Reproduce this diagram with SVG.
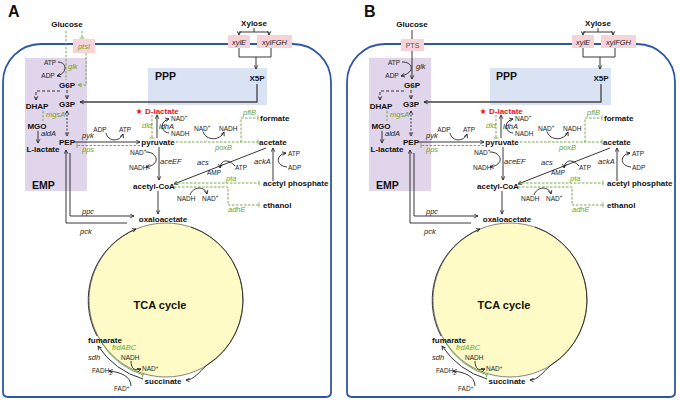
<svg xmlns="http://www.w3.org/2000/svg" width="680" height="400" viewBox="0 0 680 400">
<style>
text{font-family:"Liberation Sans",Arial,sans-serif}
.m{font-size:8px;font-weight:bold;fill:#111}
.red{font-size:8px;font-weight:bold;fill:#e8141b}
.star{font-family:"DejaVu Sans",sans-serif;font-size:8px;fill:#e8141b}
.c{font-size:6.5px;fill:#222}
.gk{font-size:7.5px;font-style:italic;fill:#222}
.gg{font-size:7.5px;font-style:italic;fill:#6aa339}
.rg{font-size:10.5px;font-weight:bold;fill:#111}
.tca{font-size:11px;font-weight:bold;fill:#111}
.pl{font-size:16px;font-weight:bold;fill:#111}
.ln{fill:none;stroke:#222;stroke-width:0.9}
.gd{fill:none;stroke:#6aa339;stroke-width:0.9;stroke-dasharray:2.5 1.5}
.gs{fill:none;stroke:#6aa339;stroke-width:0.9}
.tc{fill:none;stroke:#333;stroke-width:1}
.cell{fill:none;stroke:#2f55a4;stroke-width:1.8}
.emp{fill:#e0d5ea}
.ppp{fill:#dae3f3}
.pink{fill:#f6d3d8}
.circ{fill:#fefbc6;stroke:#666;stroke-width:0.8}
</style>
<defs>
<marker id="ar" viewBox="0 0 8 8" refX="7" refY="4" markerWidth="5" markerHeight="5" orient="auto-start-reverse" markerUnits="userSpaceOnUse"><path d="M1,1 L7,4 L1,7" fill="none" stroke="#222" stroke-width="1.3"/></marker>
<marker id="ag" viewBox="0 0 8 8" refX="7" refY="4" markerWidth="5" markerHeight="5" orient="auto" markerUnits="userSpaceOnUse"><path d="M1,1 L7,4 L1,7" fill="none" stroke="#6aa339" stroke-width="1.3"/></marker>
<marker id="tb" viewBox="0 0 4 10" refX="2" refY="5" markerWidth="2" markerHeight="6" orient="auto" markerUnits="userSpaceOnUse"><path d="M2,0 V10" stroke="#6aa339" stroke-width="1.6"/></marker>
</defs>

<!-- ================= PANEL A ================= -->
<g id="panelA">
<g id="a-emp"><rect class="emp" x="25" y="58" width="62" height="133"/><text class="rg" x="32" y="189">EMP</text></g>
<g id="a-ppp"><rect class="ppp" x="148" y="68" width="119" height="37"/><text class="rg" x="155" y="80">PPP</text></g>
<g id="a-cell"><path class="cell" d="M3,82 A38,38 0 0 1 41,44 H293 A38,38 0 0 1 331,82 V392 Q331,397 326,397 H8 Q3,397 3,392 Z"/></g>
<g id="a-tca"><circle class="circ" cx="166" cy="300" r="77"/><text class="tca" x="160" y="309" text-anchor="middle">TCA cycle</text></g>

<g id="a-connectors">
<path class="gd" d="M66,31 V80"/>
<path class="gd" d="M82,31 V38" marker-end="url(#tb)"/>
<path class="gd" d="M86,53 V85 H78" marker-end="url(#ag)"/>
<path class="ln" d="M58,62 C67,62 68,73 57,76" marker-end="url(#ar)"/>
<path class="ln" d="M254,28 V32 M239,32 H269"/>
<path class="ln" d="M239,32 V35" marker-end="url(#ar)"/>
<path class="ln" d="M269,32 V35" marker-end="url(#ar)"/>
<path class="ln" d="M239,48 V57 H271 V48"/>
<path class="ln" d="M256,57 V69" marker-end="url(#ar)"/>
<path fill="none" stroke="#444" stroke-width="1.3" d="M257,84 V102 H80" marker-end="url(#ar)"/>
<path class="ln" stroke-dasharray="3 2" d="M67,90 V99" marker-end="url(#ar)"/>
<path class="ln" stroke-dasharray="3 2" d="M60,91 H36 V100" marker-end="url(#ar)"/>
<path class="gd" d="M43,111 V121"/>
<path class="ln" d="M38,131 V143" marker-end="url(#ar)"/>
<path class="ln" stroke-dasharray="2 1.5" d="M67,111 V136" marker-start="url(#ar)" marker-end="url(#ar)"/>
<path class="ln" d="M74,142 H140" marker-end="url(#ar)"/>
<path class="ln" d="M106,133 C108,142 120,142 123,134" marker-end="url(#ar)"/>
<path class="gd" d="M140,145.5 H77" marker-end="url(#tb)"/>
<path class="ln" d="M157,138 V115" marker-end="url(#ar)"/>
<path class="ln" d="M169,133 C160,132 160,121 169,119" marker-end="url(#ar)"/>
<path class="gd" d="M152,115 V138" marker-end="url(#tb)"/>
<path class="gd" d="M176,142 H258" marker-end="url(#tb)"/>
<path class="gd" d="M241,142 V118 H258" marker-end="url(#tb)"/>
<path class="ln" d="M203,131.5 C206,141 220,141 224,132" marker-end="url(#ar)"/>
<path class="ln" d="M159,147 V180" marker-end="url(#ar)"/>
<path class="ln" d="M146,152 C158,152 161,165 146,167" marker-end="url(#ar)"/>
<path class="ln" d="M266,148 L174,184" marker-end="url(#ar)"/>
<path class="ln" d="M235,166 C229,159 221,159 220,168" marker-end="url(#ar)"/>
<path class="ln" d="M273,181 V148" marker-end="url(#ar)"/>
<path class="ln" d="M287,167 C276,166 275,155 286,153" marker-end="url(#ar)"/>
<path class="gd" d="M174,183 H259" marker-end="url(#tb)"/>
<path class="gd" d="M174,187 H228 V205 H259" marker-end="url(#tb)"/>
<path class="ln" d="M190,195 C193,186 205,186 207,194" marker-end="url(#ar)"/>
<path class="ln" d="M158,191 V214" marker-end="url(#ar)"/>
<path class="ln" d="M70,153 V216 H134" marker-end="url(#ar)"/>
<path class="ln" d="M127,223 H66 V150" marker-end="url(#ar)"/>
<path class="tc" d="M97,336 A77,77 0 0 1 136,229" marker-end="url(#ar)"/>
<path class="tc" d="M191,227 A77,77 0 0 1 207,365 C199,372 194,380 186,380" marker-end="url(#ar)"/>
<path class="tc" d="M143,379 A82,82 0 0 1 98,346" marker-end="url(#ar)"/>
<path class="gs" d="M101,342 A78,78 0 0 0 143,375" marker-end="url(#tb)"/>
<path class="ln" d="M131,361 C131,369 135,371 141,369" marker-end="url(#ar)"/>
<path class="ln" d="M131,386 C131,376 120,372 109,371" marker-end="url(#ar)"/>
</g>

<g id="a-ptsI"><rect class="pink" x="73" y="39" width="22" height="14"/><text class="gg" x="84" y="49" text-anchor="middle">ptsI</text></g>
<g id="a-xylE"><rect class="pink" x="228" y="35" width="22" height="13"/><text class="gk" x="239" y="44.5" text-anchor="middle">xylE</text></g>
<g id="a-xylFGH"><rect class="pink" x="257" y="35" width="35" height="13"/><text class="gk" x="274.5" y="44.5" text-anchor="middle">xylFGH</text></g>

<g id="a-label"><text class="pl" x="8" y="17">A</text></g>
<g id="a-glucose"><text class="m" x="67" y="27" text-anchor="middle">Glucose</text></g>
<g id="a-xylose"><text class="m" x="254" y="26" text-anchor="middle">Xylose</text></g>
<g id="a-x5p"><text class="m" x="257" y="81" text-anchor="middle">X5P</text></g>
<g id="a-g6p"><text class="m" x="67" y="88" text-anchor="middle">G6P</text></g>
<g id="a-g3p"><text class="m" x="67" y="107" text-anchor="middle">G3P</text></g>
<g id="a-dhap"><text class="m" x="37" y="109" text-anchor="middle">DHAP</text></g>
<g id="a-mgo"><text class="m" x="37" y="129" text-anchor="middle">MGO</text></g>
<g id="a-llac"><text class="m" x="43" y="152" text-anchor="middle">L-lactate</text></g>
<g id="a-pep"><text class="m" x="67" y="145" text-anchor="middle">PEP</text></g>
<g id="a-pyr"><text class="m" x="158" y="145" text-anchor="middle">pyruvate</text></g>
<g id="a-dlac"><text class="star" x="139" y="114" text-anchor="middle">★</text><text class="red" x="145" y="114">D-lactate</text></g>
<g id="a-formate"><text class="m" x="260" y="121">formate</text></g>
<g id="a-acetate"><text class="m" x="259" y="145">acetate</text></g>
<g id="a-accoa"><text class="m" x="154" y="189" text-anchor="middle">acetyl-CoA</text></g>
<g id="a-acp"><text class="m" x="263" y="186">acetyl phosphate</text></g>
<g id="a-ethanol"><text class="m" x="263" y="208">ethanol</text></g>
<g id="a-oaa"><text class="m" x="163" y="222" text-anchor="middle">oxaloacetate</text></g>
<g id="a-fum"><text class="m" x="105" y="343" text-anchor="middle">fumarate</text></g>
<g id="a-succ"><text class="m" x="163" y="384" text-anchor="middle">succinate</text></g>

<g id="a-cofactors">
<text class="c" x="50" y="64.5" text-anchor="middle">ATP</text>
<text class="c" x="48" y="78" text-anchor="middle">ADP</text>
<text class="c" x="100" y="131.5" text-anchor="middle">ADP</text>
<text class="c" x="125" y="131.5" text-anchor="middle">ATP</text>
<text class="c" x="171" y="120.5">NAD<tspan font-size="4.5" dy="-2.5">+</tspan></text>
<text class="c" x="171" y="135.5">NADH</text>
<text class="c" x="194" y="130.5">NAD<tspan font-size="4.5" dy="-2.5">+</tspan></text>
<text class="c" x="219" y="130.5">NADH</text>
<text class="c" x="130" y="154.5">NAD<tspan font-size="4.5" dy="-2.5">+</tspan></text>
<text class="c" x="129" y="169.5">NADH</text>
<text class="c" x="207" y="174.5">AMP</text>
<text class="c" x="235" y="169.5">ATP</text>
<text class="c" x="288" y="155.5">ATP</text>
<text class="c" x="288" y="169.5">ADP</text>
<text class="c" x="177" y="200.5">NADH</text>
<text class="c" x="202" y="200.5">NAD<tspan font-size="4.5" dy="-2.5">+</tspan></text>
<text class="c" x="121" y="359.5">NADH</text>
<text class="c" x="142" y="371">NAD<tspan font-size="4.5" dy="-2.5">+</tspan></text>
<text class="c" x="92" y="373">FADH<tspan font-size="4.5" dy="1.5">2</tspan></text>
<text class="c" x="114" y="391">FAD<tspan font-size="4.5" dy="-2.5">+</tspan></text>
</g>
<g id="a-genes">
<text class="gg" x="68" y="69">glk</text>
<text class="gg" x="46" y="117">mgsA</text>
<text class="gk" x="41" y="136">aldA</text>
<text class="gk" x="82" y="138">pyk</text>
<text class="gg" x="82" y="152">pps</text>
<text class="gg" x="142" y="128">dld</text>
<text class="gk" x="159" y="128.5">ldhA</text>
<text class="gg" x="243" y="115">pflB</text>
<text class="gg" x="215" y="150">poxB</text>
<text class="gk" x="160" y="164">aceEF</text>
<text class="gk" x="197" y="165">acs</text>
<text class="gk" x="254" y="164">ackA</text>
<text class="gg" x="226" y="181">pta</text>
<text class="gg" x="228" y="212">adhE</text>
<text class="gk" x="82" y="214">ppc</text>
<text class="gk" x="80" y="234">pck</text>
<text class="gk" x="88" y="360">sdh</text>
<text class="gg" x="112" y="350" font-size="7">frdABC</text>
</g>
</g>

<!-- ================= PANEL B ================= -->
<g id="panelB" transform="translate(344,0)">
<g id="b-emp"><rect class="emp" x="25" y="58" width="62" height="133"/><text class="rg" x="32" y="189">EMP</text></g>
<g id="b-ppp"><rect class="ppp" x="146" y="68" width="121" height="37"/><text class="rg" x="152" y="80">PPP</text></g>
<g id="b-cell"><path class="cell" d="M3,82 A38,38 0 0 1 41,44 H293 A38,38 0 0 1 331,82 V392 Q331,397 326,397 H8 Q3,397 3,392 Z"/></g>
<g id="b-tca"><circle class="circ" cx="166" cy="300" r="77"/><text class="tca" x="160" y="309" text-anchor="middle">TCA cycle</text></g>

<g id="b-connectors">
<path class="ln" d="M68,30 V79" marker-end="url(#ar)"/>
<path class="ln" d="M58,62 C70,62 71,73 57,76" marker-end="url(#ar)"/>
<path class="ln" d="M254,28 V32 M239,32 H269"/>
<path class="ln" d="M239,32 V35" marker-end="url(#ar)"/>
<path class="ln" d="M269,32 V35" marker-end="url(#ar)"/>
<path class="ln" d="M239,48 V57 H271 V48"/>
<path class="ln" d="M256,57 V69" marker-end="url(#ar)"/>
<path fill="none" stroke="#444" stroke-width="1.3" d="M257,84 V102 H80" marker-end="url(#ar)"/>
<path class="ln" stroke-dasharray="3 2" d="M67,90 V99" marker-end="url(#ar)"/>
<path class="ln" stroke-dasharray="3 2" d="M60,91 H36 V100" marker-end="url(#ar)"/>
<path class="gd" d="M43,111 V121"/>
<path class="ln" d="M38,131 V143" marker-end="url(#ar)"/>
<path class="ln" stroke-dasharray="2 1.5" d="M67,111 V136" marker-start="url(#ar)" marker-end="url(#ar)"/>
<path class="ln" d="M74,142 H140" marker-end="url(#ar)"/>
<path class="ln" d="M106,133 C108,142 120,142 123,134" marker-end="url(#ar)"/>
<path class="gd" d="M140,145.5 H77" marker-end="url(#tb)"/>
<path class="ln" d="M157,138 V115" marker-end="url(#ar)"/>
<path class="ln" d="M169,133 C160,132 160,121 169,119" marker-end="url(#ar)"/>
<path class="gd" d="M152,115 V138" marker-end="url(#tb)"/>
<path class="gd" d="M176,142 H258" marker-end="url(#tb)"/>
<path class="gd" d="M241,142 V118 H258" marker-end="url(#tb)"/>
<path class="ln" d="M203,131.5 C206,141 220,141 224,132" marker-end="url(#ar)"/>
<path class="ln" d="M159,147 V180" marker-end="url(#ar)"/>
<path class="ln" d="M146,152 C158,152 161,165 146,167" marker-end="url(#ar)"/>
<path class="ln" d="M266,148 L174,184" marker-end="url(#ar)"/>
<path class="ln" d="M235,166 C229,159 221,159 220,168" marker-end="url(#ar)"/>
<path class="ln" d="M273,181 V148" marker-end="url(#ar)"/>
<path class="ln" d="M287,167 C276,166 275,155 286,153" marker-end="url(#ar)"/>
<path class="gd" d="M174,183 H259" marker-end="url(#tb)"/>
<path class="gd" d="M174,187 H228 V205 H259" marker-end="url(#tb)"/>
<path class="ln" d="M190,195 C193,186 205,186 207,194" marker-end="url(#ar)"/>
<path class="ln" d="M158,191 V214" marker-end="url(#ar)"/>
<path class="ln" d="M70,153 V216 H134" marker-end="url(#ar)"/>
<path class="ln" d="M127,223 H66 V150" marker-end="url(#ar)"/>
<path class="tc" d="M97,336 A77,77 0 0 1 136,229" marker-end="url(#ar)"/>
<path class="tc" d="M191,227 A77,77 0 0 1 207,365 C199,372 194,380 186,380" marker-end="url(#ar)"/>
<path class="tc" d="M143,379 A82,82 0 0 1 98,346" marker-end="url(#ar)"/>
<path class="gs" d="M101,342 A78,78 0 0 0 143,375" marker-end="url(#tb)"/>
<path class="ln" d="M131,361 C131,369 135,371 141,369" marker-end="url(#ar)"/>
<path class="ln" d="M131,386 C131,376 120,372 109,371" marker-end="url(#ar)"/>
</g>

<g id="b-pts"><rect class="pink" x="57" y="39" width="23" height="12"/><text x="68.5" y="47.5" text-anchor="middle" font-size="7" fill="#555">PTS</text></g>
<g id="b-xylE"><rect class="pink" x="228" y="35" width="22" height="13"/><text class="gk" x="239" y="44.5" text-anchor="middle">xylE</text></g>
<g id="b-xylFGH"><rect class="pink" x="257" y="35" width="35" height="13"/><text class="gk" x="274.5" y="44.5" text-anchor="middle">xylFGH</text></g>

<g id="b-label"><text class="pl" x="20" y="17">B</text></g>
<g id="b-glucose"><text class="m" x="68" y="27" text-anchor="middle">Glucose</text></g>
<g id="b-xylose"><text class="m" x="254" y="26" text-anchor="middle">Xylose</text></g>
<g id="b-x5p"><text class="m" x="257" y="81" text-anchor="middle">X5P</text></g>
<g id="b-g6p"><text class="m" x="68" y="88" text-anchor="middle">G6P</text></g>
<g id="b-g3p"><text class="m" x="67" y="107" text-anchor="middle">G3P</text></g>
<g id="b-dhap"><text class="m" x="37" y="109" text-anchor="middle">DHAP</text></g>
<g id="b-mgo"><text class="m" x="37" y="129" text-anchor="middle">MGO</text></g>
<g id="b-llac"><text class="m" x="43" y="152" text-anchor="middle">L-lactate</text></g>
<g id="b-pep"><text class="m" x="67" y="145" text-anchor="middle">PEP</text></g>
<g id="b-pyr"><text class="m" x="158" y="145" text-anchor="middle">pyruvate</text></g>
<g id="b-dlac"><text class="star" x="139" y="114" text-anchor="middle">★</text><text class="red" x="145" y="114">D-lactate</text></g>
<g id="b-formate"><text class="m" x="260" y="121">formate</text></g>
<g id="b-acetate"><text class="m" x="259" y="145">acetate</text></g>
<g id="b-accoa"><text class="m" x="154" y="189" text-anchor="middle">acetyl-CoA</text></g>
<g id="b-acp"><text class="m" x="263" y="186">acetyl phosphate</text></g>
<g id="b-ethanol"><text class="m" x="263" y="208">ethanol</text></g>
<g id="b-oaa"><text class="m" x="163" y="222" text-anchor="middle">oxaloacetate</text></g>
<g id="b-fum"><text class="m" x="105" y="343" text-anchor="middle">fumarate</text></g>
<g id="b-succ"><text class="m" x="163" y="384" text-anchor="middle">succinate</text></g>

<g id="b-cofactors">
<text class="c" x="50" y="64.5" text-anchor="middle">ATP</text>
<text class="c" x="48" y="78" text-anchor="middle">ADP</text>
<text class="c" x="100" y="131.5" text-anchor="middle">ADP</text>
<text class="c" x="125" y="131.5" text-anchor="middle">ATP</text>
<text class="c" x="171" y="120.5">NAD<tspan font-size="4.5" dy="-2.5">+</tspan></text>
<text class="c" x="171" y="135.5">NADH</text>
<text class="c" x="194" y="130.5">NAD<tspan font-size="4.5" dy="-2.5">+</tspan></text>
<text class="c" x="219" y="130.5">NADH</text>
<text class="c" x="130" y="154.5">NAD<tspan font-size="4.5" dy="-2.5">+</tspan></text>
<text class="c" x="129" y="169.5">NADH</text>
<text class="c" x="207" y="174.5">AMP</text>
<text class="c" x="235" y="169.5">ATP</text>
<text class="c" x="288" y="155.5">ATP</text>
<text class="c" x="288" y="169.5">ADP</text>
<text class="c" x="177" y="200.5">NADH</text>
<text class="c" x="202" y="200.5">NAD<tspan font-size="4.5" dy="-2.5">+</tspan></text>
<text class="c" x="121" y="359.5">NADH</text>
<text class="c" x="142" y="371">NAD<tspan font-size="4.5" dy="-2.5">+</tspan></text>
<text class="c" x="92" y="373">FADH<tspan font-size="4.5" dy="1.5">2</tspan></text>
<text class="c" x="114" y="391">FAD<tspan font-size="4.5" dy="-2.5">+</tspan></text>
</g>
<g id="b-genes">
<text class="gk" x="72" y="69">glk</text>
<text class="gg" x="46" y="117">mgsA</text>
<text class="gk" x="41" y="136">aldA</text>
<text class="gk" x="82" y="138">pyk</text>
<text class="gg" x="82" y="152">pps</text>
<text class="gg" x="142" y="128">dld</text>
<text class="gk" x="159" y="128.5">ldhA</text>
<text class="gg" x="243" y="115">pflB</text>
<text class="gg" x="215" y="150">poxB</text>
<text class="gk" x="160" y="164">aceEF</text>
<text class="gk" x="197" y="165">acs</text>
<text class="gk" x="254" y="164">ackA</text>
<text class="gg" x="226" y="181">pta</text>
<text class="gg" x="228" y="212">adhE</text>
<text class="gk" x="82" y="214">ppc</text>
<text class="gk" x="80" y="234">pck</text>
<text class="gk" x="88" y="360">sdh</text>
<text class="gg" x="112" y="350" font-size="7">frdABC</text>
</g>
</g>
</svg>
